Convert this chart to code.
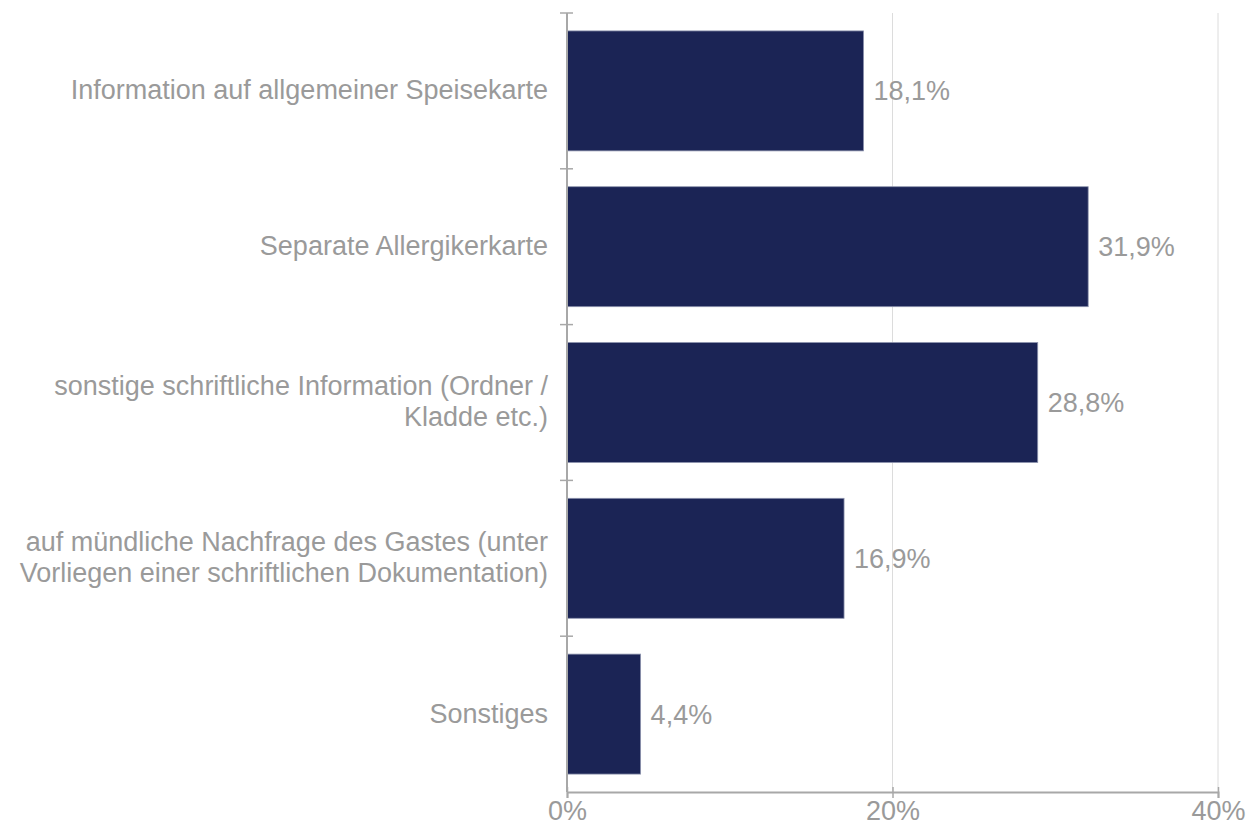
<!DOCTYPE html>
<html>
<head>
<meta charset="utf-8">
<script src="https://cdn.jsdelivr.net/npm/d3@7"></script>
<style>
  body { margin: 0; background: #fff; }
  text { font-family: "Liberation Sans", Arial, sans-serif; fill: #9a9a9a; }
</style>
</head>
<body>
<script>
const width = 1246;
const height = 826;
const margin = { top: 13, right: 28, bottom: 34, left: 567 };
const fontSize = 27;

const categories = [
  ["Information auf allgemeiner Speisekarte"],
  ["Separate Allergikerkarte"],
  ["sonstige schriftliche Information (Ordner /", "Kladde etc.)"],
  ["auf mündliche Nachfrage des Gastes (unter", "Vorliegen einer schriftlichen Dokumentation)"],
  ["Sonstiges"],
];
const values = [18.1, 31.9, 28.8, 16.9, 4.4];
const xTicks = [0, 20, 40];

const svg = d3
  .select("body")
  .append("svg")
  .attr("width", width)
  .attr("height", height);

const x = d3
  .scaleLinear()
  .domain([0, 40])
  .range([margin.left, width - margin.right]);

const y = d3
  .scaleBand()
  .domain(d3.range(values.length))
  .range([margin.top, height - margin.bottom])
  .paddingInner(0.23)
  .paddingOuter(0.115);

// gridlines
svg
  .selectAll(".grid")
  .data(xTicks.slice(1))
  .join("line")
  .attr("x1", (d) => x(d))
  .attr("x2", (d) => x(d))
  .attr("y1", margin.top)
  .attr("y2", height - margin.bottom)
  .attr("stroke", "#dcdcdc")
  .attr("stroke-width", 1);

// bars
svg
  .selectAll(".bar")
  .data(values)
  .join("rect")
  .attr("x", x(0))
  .attr("y", (d, i) => y(i))
  .attr("width", (d) => x(d) - x(0) + 2)
  .attr("height", y.bandwidth())
  .attr("fill", "#1b2455")
  .attr("stroke", "#8d93ad")
  .attr("stroke-width", 0.8);

// value labels
svg
  .selectAll(".val")
  .data(values)
  .join("text")
  .attr("x", (d) => x(d) + 12)
  .attr("y", (d, i) => y(i) + y.bandwidth() / 2)
  .attr("dy", "0.35em")
  .attr("font-size", fontSize)
  .text((d) => d.toFixed(1).replace(".", ",") + "%");

// y axis
const yAxis = svg.append("g");
yAxis
  .append("line")
  .attr("x1", x(0))
  .attr("x2", x(0))
  .attr("y1", margin.top)
  .attr("y2", height - margin.bottom)
  .attr("stroke", "#a8a8a8")
  .attr("stroke-width", 2);

const step = y.step();
const yTickPos = d3.range(values.length).map((i) => y(i) - (step - y.bandwidth()) / 2);
yAxis
  .selectAll(".ytick")
  .data(yTickPos)
  .join("line")
  .attr("x1", x(0) - 7)
  .attr("x2", x(0) + 6)
  .attr("y1", (d) => d)
  .attr("y2", (d) => d)
  .attr("stroke", "#a8a8a8")
  .attr("stroke-width", 1.5);

// category labels
const labels = svg
  .selectAll(".cat")
  .data(categories)
  .join("text")
  .attr("text-anchor", "end")
  .attr("font-size", fontSize)
  .attr("transform", (d, i) => `translate(${x(0) - 19},${y(i) + y.bandwidth() / 2 - 1})`);

labels
  .selectAll("tspan")
  .data((d) => d)
  .join("tspan")
  .attr("x", 0)
  .attr("y", (d, i, nodes) => (i - (nodes.length - 1) / 2) * 31)
  .attr("dy", "0.35em")
  .text((d) => d);

// x axis
const xAxis = svg
  .append("g")
  .attr("transform", `translate(0,${height - margin.bottom})`)
  .call(
    d3
      .axisBottom(x)
      .tickValues(xTicks)
      .tickSize(6)
      .tickFormat((d) => d + "%")
  );
xAxis.select(".domain").attr("stroke", "#a8a8a8").attr("stroke-width", 2);
xAxis.selectAll(".tick line").attr("stroke", "#a8a8a8").attr("stroke-width", 1.5).attr("y1", -5);
xAxis
  .selectAll(".tick text")
  .attr("fill", "#9a9a9a")
  .attr("font-size", fontSize)
  .attr("font-family", "Liberation Sans, Arial, sans-serif");
</script>
</body>
</html>
